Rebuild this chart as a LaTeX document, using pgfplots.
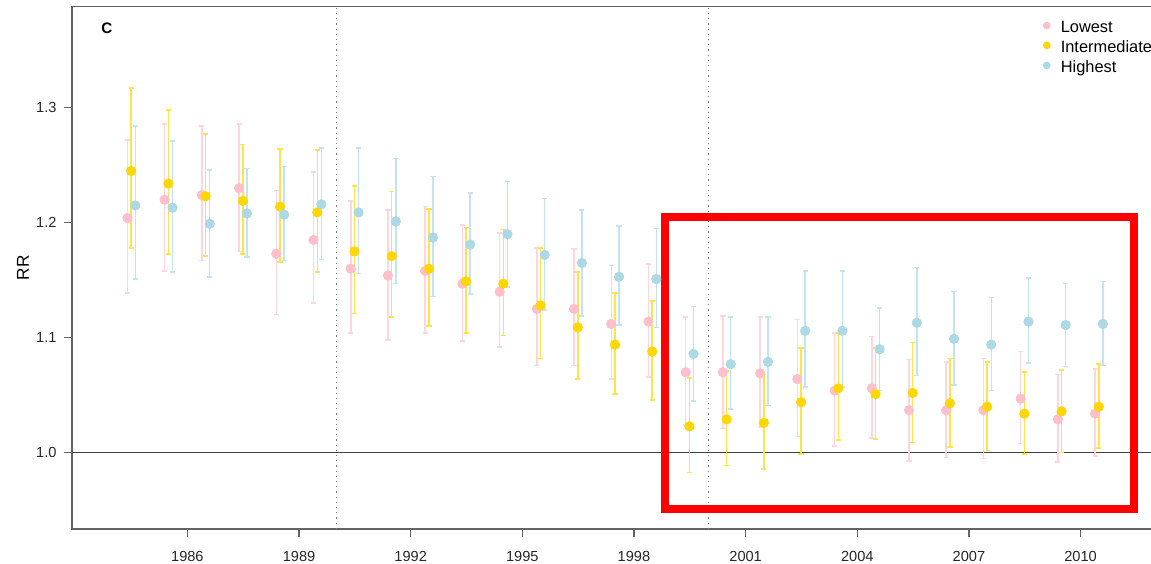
\documentclass[border=0pt]{standalone}
\usepackage{pgfplots}
\pgfplotsset{compat=1.18}
\usepackage{pgfplotstable}
\usepackage{fontspec}
\setmainfont{Liberation Sans}
\definecolor{pinkc}{RGB}{255,192,203}
\definecolor{goldc}{RGB}{255,215,0}
\definecolor{bluec}{RGB}{173,216,230}
\definecolor{axgray}{RGB}{100,100,100}

% x = plotting position, y = RR, lo/hi = 95% CI
\pgfplotstableread{
x y lo hi
1984.39 1.204 1.139 1.272
1985.39 1.220 1.158 1.286
1986.39 1.224 1.167 1.284
1987.39 1.230 1.175 1.286
1988.39 1.173 1.120 1.228
1989.39 1.185 1.130 1.244
1990.39 1.160 1.104 1.219
1991.39 1.154 1.098 1.211
1992.39 1.158 1.104 1.214
1993.39 1.147 1.097 1.198
1994.39 1.140 1.092 1.191
1995.39 1.125 1.076 1.178
1996.39 1.125 1.076 1.177
1997.39 1.112 1.064 1.163
1998.39 1.114 1.066 1.164
1999.39 1.070 1.024 1.118
2000.39 1.070 1.021 1.119
2001.39 1.069 1.022 1.118
2002.39 1.064 1.014 1.116
2003.39 1.054 1.006 1.104
2004.39 1.056 1.013 1.101
2005.39 1.037 0.993 1.081
2006.39 1.037 0.996 1.079
2007.39 1.037 0.995 1.082
2008.39 1.047 1.008 1.088
2009.39 1.029 0.992 1.068
2010.39 1.034 0.997 1.073
}\lowest

\pgfplotstableread{
x y lo hi
1984.49 1.245 1.178 1.317
1985.49 1.234 1.173 1.298
1986.49 1.223 1.171 1.277
1987.49 1.219 1.173 1.268
1988.49 1.214 1.166 1.264
1989.49 1.209 1.157 1.263
1990.49 1.175 1.121 1.232
1991.49 1.171 1.118 1.227
1992.49 1.160 1.110 1.212
1993.49 1.149 1.104 1.196
1994.49 1.147 1.102 1.194
1995.49 1.128 1.082 1.178
1996.49 1.109 1.064 1.157
1997.49 1.094 1.051 1.139
1998.49 1.088 1.046 1.132
1999.49 1.023 0.983 1.065
2000.49 1.029 0.989 1.071
2001.49 1.026 0.986 1.068
2002.49 1.044 0.999 1.091
2003.49 1.056 1.011 1.104
2004.49 1.051 1.012 1.091
2005.49 1.052 1.009 1.096
2006.49 1.043 1.005 1.082
2007.49 1.040 1.002 1.079
2008.49 1.034 0.999 1.070
2009.49 1.036 1.000 1.072
2010.49 1.040 1.004 1.077
}\intermediate

\pgfplotstableread{
x y lo hi
1984.60 1.215 1.151 1.284
1985.60 1.213 1.157 1.271
1986.60 1.199 1.153 1.246
1987.60 1.208 1.170 1.247
1988.60 1.207 1.167 1.249
1989.60 1.216 1.168 1.265
1990.60 1.209 1.156 1.265
1991.60 1.201 1.147 1.256
1992.60 1.187 1.136 1.240
1993.60 1.181 1.138 1.226
1994.60 1.190 1.144 1.236
1995.60 1.172 1.124 1.221
1996.60 1.165 1.119 1.211
1997.60 1.153 1.111 1.197
1998.60 1.151 1.109 1.195
1999.60 1.086 1.045 1.127
2000.60 1.077 1.038 1.118
2001.60 1.079 1.041 1.118
2002.60 1.106 1.057 1.158
2003.60 1.106 1.057 1.158
2004.60 1.090 1.054 1.126
2005.60 1.113 1.067 1.161
2006.60 1.099 1.059 1.140
2007.60 1.094 1.054 1.135
2008.60 1.114 1.078 1.152
2009.60 1.111 1.075 1.147
2010.60 1.112 1.076 1.149
}\highest

\begin{document}
\begin{tikzpicture}
\path[use as bounding box] (-36pt,-17pt) rectangle (539.5pt,264.5pt);
\begin{axis}[
  at={(0pt,0pt)}, anchor=south west,
  scale only axis,
  width=540.5pt, height=261.15pt,
  xmin=1982.9, xmax=2011.946,
  ymin=0.9337, ymax=1.3878,
  axis line style={draw=axgray, line width=0.75pt},
  tick align=outside,
  major tick length=4.2pt,
  every tick/.style={axgray, line width=0.6pt},
  xtick={1986,1989,1992,1995,1998,2001,2004,2007,2010},
  xticklabels={1986,1989,1992,1995,1998,2001,2004,2007,2010},
  ytick={1.0,1.1,1.2,1.3},
  yticklabels={1.0,1.1,1.2,1.3},
  xtick pos=bottom, ytick pos=left,
  ticklabel style={font=\fontsize{7.3}{8}\selectfont, text=black!85},
  xticklabel style={yshift=-3.5pt},
  ylabel={RR},
  ylabel style={at={(axis description cs:-0.0454,0.5)}, anchor=center, font=\fontsize{8.6}{9}\selectfont},
  clip=false,
  legend style={draw=none, fill=none, at={(axis cs:2008.99,1.3759)}, anchor=north west,
    inner sep=0pt, outer sep=0pt, font=\fontsize{8.2}{9.75}\selectfont,
    column sep=5.1pt, row sep=1.6pt, nodes={inner xsep=0pt, inner ysep=0.5pt}},
  legend cell align=left,
]
% reference lines
\draw[black!75, line width=0.7pt] (axis cs:1982.9,1) -- (axis cs:2011.946,1);
\draw[gray, dotted, line width=0.6pt] (axis cs:1990,0.9337) -- (axis cs:1990,1.3878);
\draw[gray, dotted, line width=0.6pt] (axis cs:2000,0.9337) -- (axis cs:2000,1.3878);

\addplot[only marks, mark=*, mark size=2.35pt, mark options={draw=pinkc, fill=pinkc}, forget plot,
  error bars/.cd, y dir=both, y explicit,
  error bar style={line width=0.75pt, color=pinkc!65!white},
  error mark options={rotate=90, line width=0.75pt, mark size=1.3pt, color=pinkc!65!white}]
  table[x=x, y=y, y error plus expr=\thisrow{hi}-\thisrow{y}, y error minus expr=\thisrow{y}-\thisrow{lo}] {\lowest};
\addplot[only marks, mark=*, mark size=2.35pt, mark options={draw=goldc, fill=goldc}, forget plot,
  error bars/.cd, y dir=both, y explicit,
  error bar style={line width=0.75pt, color=goldc!70!white},
  error mark options={rotate=90, line width=0.75pt, mark size=1.3pt, color=goldc!70!white}]
  table[x=x, y=y, y error plus expr=\thisrow{hi}-\thisrow{y}, y error minus expr=\thisrow{y}-\thisrow{lo}] {\intermediate};
\addplot[only marks, mark=*, mark size=2.35pt, mark options={draw=bluec, fill=bluec}, forget plot,
  error bars/.cd, y dir=both, y explicit,
  error bar style={line width=0.75pt, color=bluec!70!white},
  error mark options={rotate=90, line width=0.75pt, mark size=1.3pt, color=bluec!70!white}]
  table[x=x, y=y, y error plus expr=\thisrow{hi}-\thisrow{y}, y error minus expr=\thisrow{y}-\thisrow{lo}] {\highest};

\addlegendimage{legend image code/.code={\fill[pinkc] (0pt,1.5pt) circle (1.7pt);}}
\addlegendentry{Lowest}
\addlegendimage{legend image code/.code={\fill[goldc] (0pt,1.5pt) circle (1.7pt);}}
\addlegendentry{Intermediate}
\addlegendimage{legend image code/.code={\fill[bluec] (0pt,1.5pt) circle (1.7pt);}}
\addlegendentry{Highest}

% panel letter and highlight box
\node[font=\bfseries\fontsize{7.6}{8}\selectfont] at (axis cs:1983.84,1.3693) {C};
\draw[red, line width=3.75pt] (axis cs:1998.84,0.9513) rectangle (axis cs:2011.43,1.205);
\end{axis}
\end{tikzpicture}
\end{document}
